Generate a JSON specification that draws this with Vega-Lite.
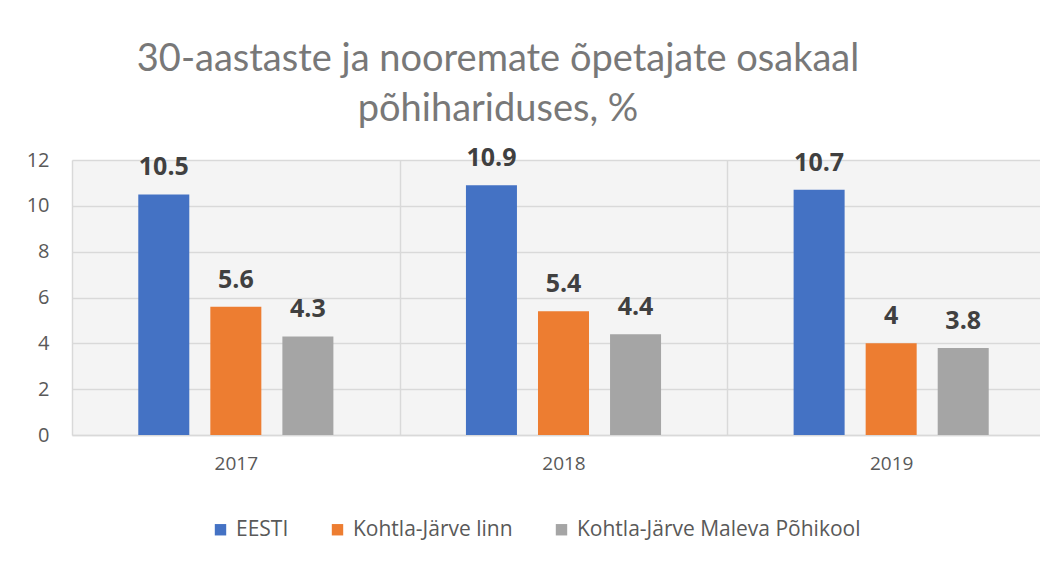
{
  "$schema": "https://vega.github.io/schema/vega-lite/v6.json",
  "width": 968,
  "height": 275,
  "autosize": {"type": "none"},
  "padding": {"left": 72, "top": 160, "right": 0, "bottom": 127},
  "background": "white",
  "title": {
    "text": ["30-aastaste ja nooremate õpetajate osakaal", "põhihariduses, %"],
    "font": "Lato",
    "fontWeight": 400,
    "fontSize": 38,
    "lineHeight": 50,
    "color": "#787878",
    "anchor": "middle",
    "dx": -58,
    "offset": 17
  },
  "data": {
    "values": [
      {"year": "2017", "series": "EESTI", "value": 10.5},
      {"year": "2017", "series": "Kohtla-Järve linn", "value": 5.6},
      {"year": "2017", "series": "Kohtla-Järve Maleva Põhikool", "value": 4.3},
      {"year": "2018", "series": "EESTI", "value": 10.9},
      {"year": "2018", "series": "Kohtla-Järve linn", "value": 5.4},
      {"year": "2018", "series": "Kohtla-Järve Maleva Põhikool", "value": 4.4},
      {"year": "2019", "series": "EESTI", "value": 10.7},
      {"year": "2019", "series": "Kohtla-Järve linn", "value": 4},
      {"year": "2019", "series": "Kohtla-Järve Maleva Põhikool", "value": 3.8}
    ]
  },
  "encoding": {
    "x": {
      "field": "year", "type": "nominal",
      "scale": {"range": [0, 983], "paddingInner": 0, "paddingOuter": 0},
      "axis": {
        "title": null, "labelAngle": 0, "labelFont": "Open Sans", "labelFontSize": 19,
        "labelColor": "#595959", "labelPadding": 19, "ticks": false,
        "domainColor": "#d9d9d9", "domainWidth": 1.5,
        "grid": true, "gridColor": "#d9d9d9", "gridWidth": 1.5, "tickBand": "extent"
      }
    },
    "xOffset": {
      "field": "series", "type": "nominal",
      "sort": ["EESTI", "Kohtla-Järve linn", "Kohtla-Järve Maleva Põhikool"],
      "scale": {"paddingInner": 0.292, "paddingOuter": 0.92}
    },
    "y": {
      "field": "value", "type": "quantitative",
      "scale": {"domain": [0, 12], "nice": false},
      "axis": {
        "title": null, "values": [0, 2, 4, 6, 8, 10, 12], "labelFont": "Open Sans", "labelFontSize": 20,
        "labelColor": "#595959", "labelPadding": 23, "ticks": false, "domain": false,
        "gridColor": "#d9d9d9", "gridWidth": 1.5
      }
    }
  },
  "layer": [
    {
      "mark": {"type": "bar"},
      "encoding": {
        "color": {
          "field": "series", "type": "nominal",
          "sort": ["EESTI", "Kohtla-Järve linn", "Kohtla-Järve Maleva Põhikool"],
          "scale": {"domain": ["EESTI", "Kohtla-Järve linn", "Kohtla-Järve Maleva Põhikool"], "range": ["#4472c4", "#ed7d31", "#a5a5a5"]},
          "legend": {
            "title": null, "orient": "none", "direction": "horizontal",
            "legendX": 138, "legendY": 359,
            "symbolType": "square", "symbolSize": 130, "symbolStrokeWidth": 0,
            "labelFont": "Open Sans", "labelFontSize": 21, "labelColor": "#595959",
            "labelLimit": 500, "columnPadding": 38, "labelOffset": 5
          }
        }
      }
    },
    {
      "mark": {"type": "text", "baseline": "alphabetic", "dy": -19, "font": "Open Sans", "fontWeight": "bold", "fontSize": 25, "color": "#404040"},
      "encoding": {"text": {"field": "value", "type": "quantitative"}}
    }
  ],
  "config": {
    "view": {"stroke": null, "fill": "#f4f4f4"}
  }
}
